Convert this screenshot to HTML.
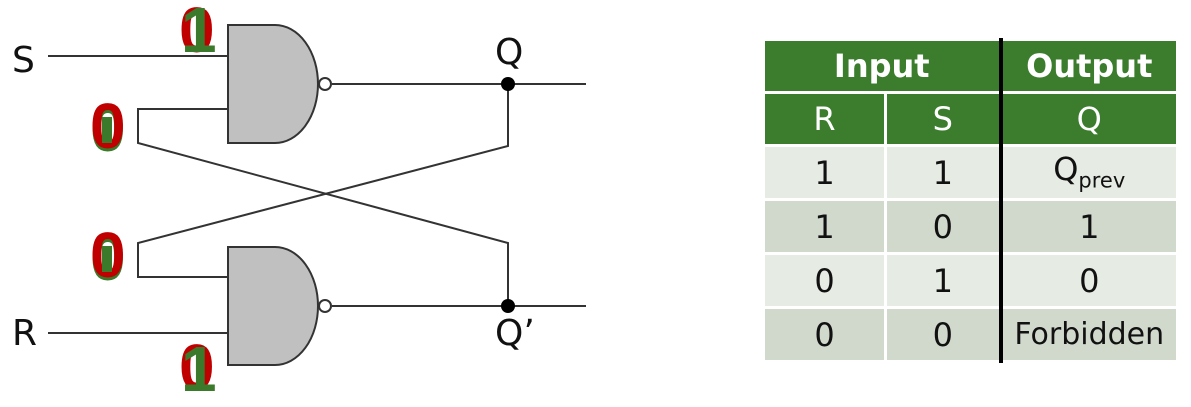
<!DOCTYPE html>
<html><head><meta charset="utf-8"><style>
html,body{margin:0;padding:0;background:#fff;width:1191px;height:407px;overflow:hidden}
svg{position:absolute;left:0;top:0}
table{position:absolute;left:762px;top:38px;border-collapse:collapse;font-family:"DejaVu Sans","Liberation Sans",sans-serif;table-layout:fixed}
td{text-align:center;padding:0;font-size:32px;color:#111;border:3px solid #fff;line-height:1}
.h td{background:#3b7d2d;color:#fff}
.a td{background:#e6ebe3}
.b td{background:#d1d9cd}
td.k{border-left:4px solid #000}
</style></head><body>
<svg width="1191" height="407" viewBox="0 0 1191 407">
<g stroke="#333" stroke-width="2" fill="none">
<line x1="48" y1="56" x2="228" y2="56"/>
<polyline points="228,109 138,109 138,143 508,243 508,306"/>
<polyline points="508,84 508,146 138,243 138,277 228,277"/>
<line x1="48" y1="333" x2="228" y2="333"/>
<line x1="332" y1="84" x2="586" y2="84"/>
<line x1="332" y1="306" x2="586" y2="306"/>
</g>
<g fill="#c0c0c0" stroke="#333" stroke-width="2">
<path d="M228,25 H275 A43,59 0 0 1 275,143 H228 Z"/>
<path d="M228,247 H275 A43,59 0 0 1 275,365 H228 Z"/>
<circle cx="325" cy="84" r="6" fill="#fff"/>
<circle cx="325" cy="306" r="6" fill="#fff"/>
</g>
<circle cx="508" cy="84" r="7" fill="#000"/>
<circle cx="508" cy="306" r="7" fill="#000"/>
<g font-family="DejaVu Sans, Liberation Sans, sans-serif" font-size="36" fill="#111">
<text x="12" y="72">S</text>
<text x="12" y="345">R</text>
<text x="495" y="64">Q</text>
<text x="495" y="345">Q’</text>
</g>
<g font-family="Liberation Sans, sans-serif" font-weight="bold" font-size="64">
<text x="179" y="52" fill="#c00000">0</text>
<text x="181" y="52" fill="#3a7a2a">1</text>
<text x="90" y="151" fill="#3a7a2a">0</text>
<text x="90" y="148" fill="#c00000">0</text>
<text x="90" y="280" fill="#3a7a2a">0</text>
<text x="90" y="277" fill="#c00000">0</text>
<text x="179" y="389" fill="#c00000">0</text>
<text x="181" y="391" fill="#3a7a2a">1</text>
</g>
<g fill="#3a7a2a">
<rect x="102" y="117" width="10" height="26"/>
<rect x="102" y="246" width="10" height="26"/>
</g>
</svg>
<table>
<colgroup><col style="width:122px"><col style="width:115px"><col style="width:177px"></colgroup>
<tr class="h" style="height:53px"><td colspan="2" style="font-weight:bold;font-size:32px">Input</td><td class="k" style="font-weight:bold;font-size:32px">Output</td></tr>
<tr class="h" style="height:53px"><td>R</td><td>S</td><td class="k">Q</td></tr>
<tr class="a" style="height:54px"><td>1</td><td>1</td><td class="k">Q<sub style="font-size:21px">prev</sub></td></tr>
<tr class="b" style="height:54px"><td>1</td><td>0</td><td class="k">1</td></tr>
<tr class="a" style="height:54px"><td>0</td><td>1</td><td class="k">0</td></tr>
<tr class="b" style="height:54px"><td>0</td><td>0</td><td class="k" style="font-size:30px">Forbidden</td></tr>
</table>
</body></html>
